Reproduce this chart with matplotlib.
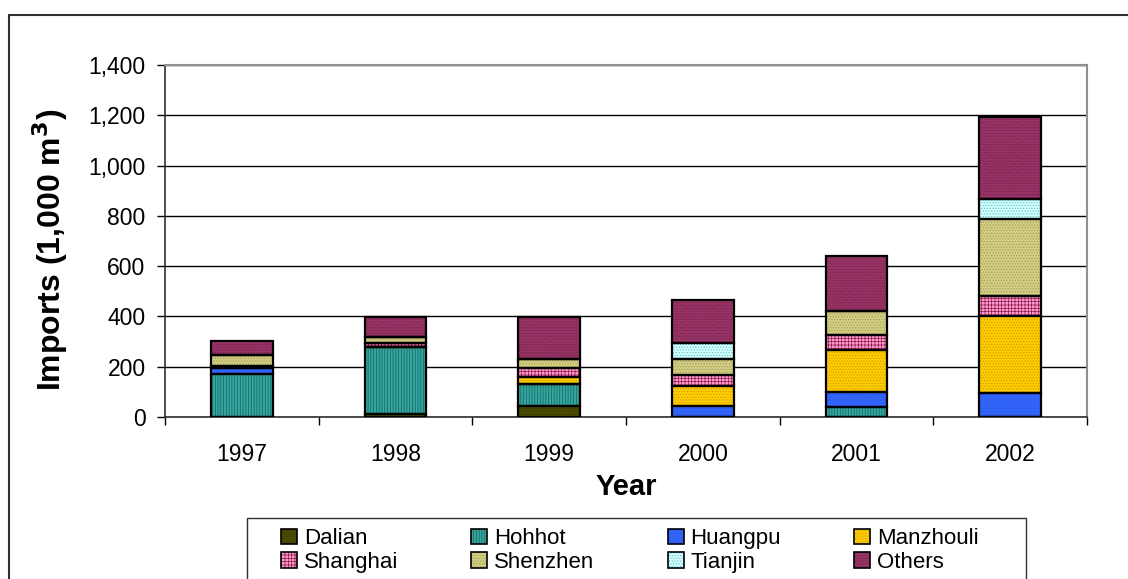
import matplotlib
matplotlib.use('Agg')
import matplotlib.pyplot as plt
import matplotlib.patches as mpatches
from matplotlib.legend_handler import HandlerTuple
from matplotlib.ticker import FuncFormatter, MultipleLocator
import numpy as np

plt.rcParams['font.family'] = ['Liberation Sans', 'DejaVu Sans']
plt.rcParams['hatch.linewidth'] = 0.5

years = ['1997', '1998', '1999', '2000', '2001', '2002']

# imports by port of entry (1,000 m3)
dalian    = [0, 13, 44, 0, 0, 0]
hohhot    = [170, 267, 86, 0, 38, 0]
huangpu   = [25, 0, 0, 44, 62, 95]
manzhouli = [3, 0, 31, 80, 165, 308]
shanghai  = [3, 14, 32, 44, 62, 80]
shenzhen  = [44, 24, 38, 63, 93, 303]
tianjin   = [0, 0, 0, 64, 0, 80]
others    = [57, 80, 165, 172, 220, 326]

ports = ['Dalian', 'Hohhot', 'Huangpu', 'Manzhouli',
         'Shanghai', 'Shenzhen', 'Tianjin', 'Others']
series = [dalian, hohhot, huangpu, manzhouli, shanghai, shenzhen, tianjin, others]

# fill colour, hatch colour, hatch pattern
styles = [
    ('#4d4d00', '#33330a', '......'),
    ('#33a6a0', '#1c605c', '||||||'),
    ('#3366ff', '#2a55d6', '......'),
    ('#ffcc00', '#c99e00', '......'),
    ('#ff99cc', '#8a1a4c', '+++++'),
    ('#d2cd80', '#a09c5c', '......'),
    ('#ccffff', '#7ab8b8', '......'),
    ('#993366', '#6e2249', '......'),
]

fig = plt.figure(figsize=(11.28, 5.79), dpi=100)
ax = fig.add_axes([165 / 1128, 162 / 579, 922 / 1128, 352 / 579])

x = np.arange(len(years))
width = 0.40
bottom = np.zeros(len(years))
handles = []
for name, vals, (fc, hc, hatch) in zip(ports, series, styles):
    vals = np.array(vals, dtype=float)
    ax.bar(x, vals, width, bottom=bottom, color=fc, edgecolor=hc,
           hatch=hatch, linewidth=0, zorder=3)
    ax.bar(x, vals, width, bottom=bottom, fill=False, edgecolor='black',
           linewidth=1.6, zorder=4)
    bottom += vals
    h1 = mpatches.Patch(facecolor=fc, edgecolor=hc, hatch=hatch, linewidth=0)
    h2 = mpatches.Patch(fill=False, edgecolor='black', linewidth=1.2)
    handles.append((h1, h2))

ax.set_xlim(-0.5, len(years) - 0.5)
ax.set_ylim(0, 1400)
ax.yaxis.set_major_locator(MultipleLocator(200))
ax.yaxis.set_major_formatter(FuncFormatter(lambda v, p: '{:,.0f}'.format(v)))
ax.grid(axis='y', color='black', linewidth=1.0, zorder=1)
ax.set_axisbelow(True)

ax.set_xticks(x)
ax.set_xticklabels(years)
ax.set_xticks(np.arange(len(years) + 1) - 0.5, minor=True)
ax.tick_params(axis='x', which='major', length=0, pad=19, labelsize=16.5)
ax.tick_params(axis='x', which='minor', length=6, width=1.0, direction='out')
ax.tick_params(axis='y', length=5.5, width=1.0, pad=8.5, labelsize=16.5)

for side in ['top', 'right']:
    ax.spines[side].set_color('#909090')
    ax.spines[side].set_linewidth(1.5)
for side in ['left', 'bottom']:
    ax.spines[side].set_color('#303030')
    ax.spines[side].set_linewidth(1.2)

ax.set_xlabel('Year', fontsize=21, fontweight='bold', labelpad=5)
ax.set_ylabel('Imports (1,000 m$^\\mathbf{3}$)', fontsize=23, fontweight='bold')
ax.yaxis.set_label_coords(-0.103, 0.475)

# legend: matplotlib fills column-wise, reorder so rows read like the picture
order = [0, 4, 1, 5, 2, 6, 3, 7]
leg = fig.legend([handles[i] for i in order], [ports[i] for i in order],
                 handler_map={tuple: HandlerTuple(ndivide=1, pad=0)},
                 ncol=4, loc='upper left',
                 bbox_to_anchor=(281 / 1128, 1 - 528 / 579),
                 fontsize=16, frameon=False,
                 handlelength=0.72, handleheight=0.68, handletextpad=0.3,
                 columnspacing=3.3, labelspacing=0.12,
                 borderpad=0, borderaxespad=0)

# legend box and outer chart frame
legbox = mpatches.Rectangle((247 / 1128, -0.05), (1026 - 247) / 1128,
                            1 - 518 / 579 + 0.05, transform=fig.transFigure,
                            fill=False, edgecolor='#303030', linewidth=1.0)
frame = mpatches.Rectangle((9 / 1128, -0.05), 1.2, 1 - 15 / 579 + 0.05,
                           transform=fig.transFigure, fill=False,
                           edgecolor='#303030', linewidth=1.5)
fig.patches.extend([legbox, frame])

fig.savefig('out.png', dpi=100)
